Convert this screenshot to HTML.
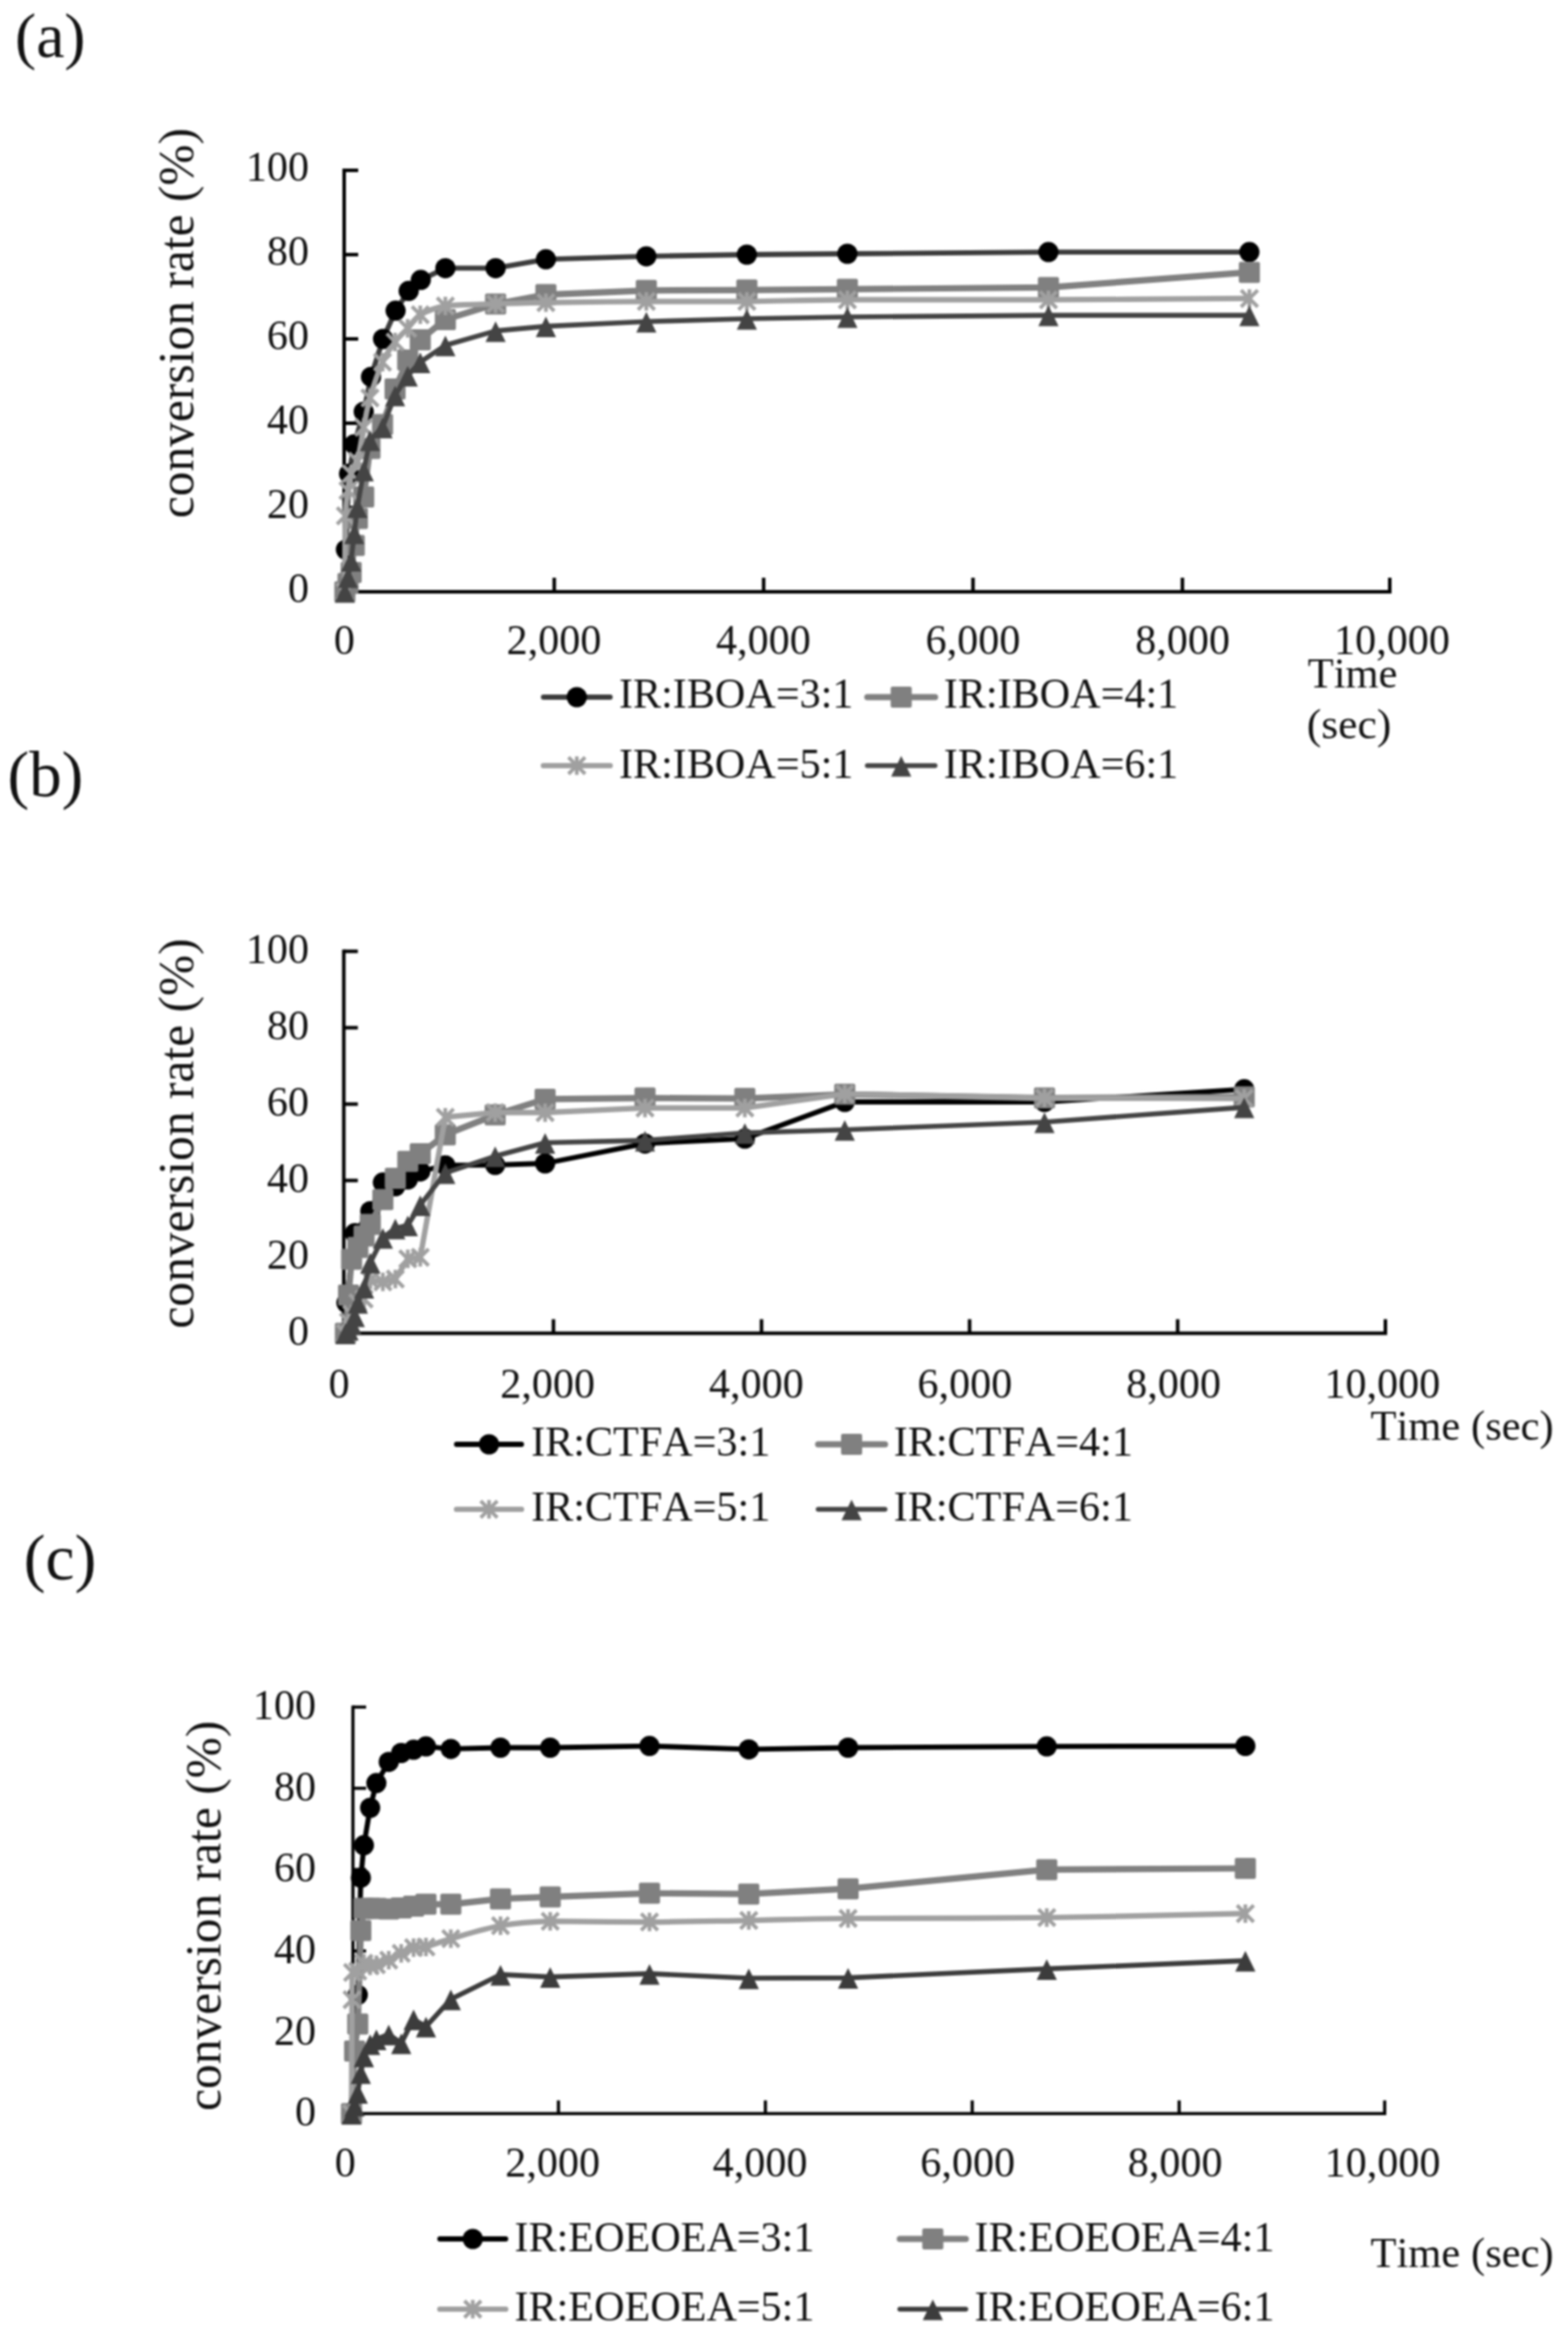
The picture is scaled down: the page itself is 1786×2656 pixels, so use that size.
<!DOCTYPE html>
<html lang="en">
<head>
<meta charset="utf-8">
<title>Conversion rate vs time</title>
<style>
html,body{margin:0;padding:0;background:#fff;}
body{width:1786px;height:2656px;overflow:hidden;}
svg{display:block;filter:blur(0.9px);}
svg text{font-family:"Liberation Serif", serif;fill:#111;font-kerning:none;}
</style>
</head>
<body>
<svg width="1786" height="2656" viewBox="0 0 1786 2656">
<rect width="1786" height="2656" fill="#fff"/>
<g id="chart-a">
<text x="17" y="65" font-size="72.5">(a)</text>
<text transform="translate(220,368) rotate(-90)" text-anchor="middle" font-size="56.4">conversion rate (%)</text>
<path d="M392 192.0L392 674.0L1585 674.0" stroke="#000" stroke-width="4" fill="none" stroke-linejoin="miter"/>
<text x="352" y="686.0" text-anchor="end" font-size="48">0</text>
<text x="352" y="590.0" text-anchor="end" font-size="48">20</text>
<text x="352" y="494.0" text-anchor="end" font-size="48">40</text>
<text x="352" y="398.0" text-anchor="end" font-size="48">60</text>
<text x="352" y="302.0" text-anchor="end" font-size="48">80</text>
<text x="352" y="206.0" text-anchor="end" font-size="48">100</text>
<text x="392.3" y="745" text-anchor="middle" font-size="48">0</text>
<text x="630.9" y="745" text-anchor="middle" font-size="48">2,000</text>
<text x="869.6" y="745" text-anchor="middle" font-size="48">4,000</text>
<text x="1108.2" y="745" text-anchor="middle" font-size="48">6,000</text>
<text x="1346.9" y="745" text-anchor="middle" font-size="48">8,000</text>
<text x="1585.5" y="745" text-anchor="middle" font-size="48">10,000</text>
<path d="M392 578.0L408 578.0M392 482.0L408 482.0M392 386.0L408 386.0M392 290.0L408 290.0M392 194.0L408 194.0M631.3 674.0L631.3 658.0M869.8 674.0L869.8 658.0M1108.3 674.0L1108.3 658.0M1346.8 674.0L1346.8 658.0M1583.0 674.0L1583.0 658.0" stroke="#000" stroke-width="4" fill="none"/>
<path d="M392.8 674.0L394.0 626.0L397.6 539.6L403.5 506.0L414.3 469.0L422.6 429.2L436.3 386.0L450.6 353.8L465.5 331.3L479.3 318.8L507.3 305.4L564.5 305.4L621.8 295.3L736.2 291.9L850.7 290.0L965.2 289.0L1194.2 287.1L1423.1 287.1" stroke="#3c3c3c" stroke-width="5.8" fill="none" stroke-linejoin="round" stroke-linecap="round"/>
<circle cx="392.8" cy="674.0" r="11.5" fill="#000"/>
<circle cx="394.0" cy="626.0" r="11.5" fill="#000"/>
<circle cx="397.6" cy="539.6" r="11.5" fill="#000"/>
<circle cx="403.5" cy="506.0" r="11.5" fill="#000"/>
<circle cx="414.3" cy="469.0" r="11.5" fill="#000"/>
<circle cx="422.6" cy="429.2" r="11.5" fill="#000"/>
<circle cx="436.3" cy="386.0" r="11.5" fill="#000"/>
<circle cx="450.6" cy="353.8" r="11.5" fill="#000"/>
<circle cx="465.5" cy="331.3" r="11.5" fill="#000"/>
<circle cx="479.3" cy="318.8" r="11.5" fill="#000"/>
<circle cx="507.3" cy="305.4" r="11.5" fill="#000"/>
<circle cx="564.5" cy="305.4" r="11.5" fill="#000"/>
<circle cx="621.8" cy="295.3" r="11.5" fill="#000"/>
<circle cx="736.2" cy="291.9" r="11.5" fill="#000"/>
<circle cx="850.7" cy="290.0" r="11.5" fill="#000"/>
<circle cx="965.2" cy="289.0" r="11.5" fill="#000"/>
<circle cx="1194.2" cy="287.1" r="11.5" fill="#000"/>
<circle cx="1423.1" cy="287.1" r="11.5" fill="#000"/>
<path d="M392.8 674.0L396.4 664.4L400.0 651.9L403.5 621.2L407.1 590.5L414.3 566.0L421.4 510.8L435.7 483.4L450.0 443.1L464.4 410.0L478.7 387.0L507.3 363.9L564.5 346.2L621.8 335.6L736.2 330.8L850.7 330.3L965.2 329.4L1194.2 327.4L1423.1 310.2" stroke="#808080" stroke-width="7.2" fill="none" stroke-linejoin="round" stroke-linecap="round"/>
<rect x="380.8" y="662.0" width="24" height="24" rx="2" fill="#808080"/>
<rect x="384.4" y="652.4" width="24" height="24" rx="2" fill="#808080"/>
<rect x="388.0" y="639.9" width="24" height="24" rx="2" fill="#808080"/>
<rect x="391.5" y="609.2" width="24" height="24" rx="2" fill="#808080"/>
<rect x="395.1" y="578.5" width="24" height="24" rx="2" fill="#808080"/>
<rect x="402.3" y="554.0" width="24" height="24" rx="2" fill="#808080"/>
<rect x="409.4" y="498.8" width="24" height="24" rx="2" fill="#808080"/>
<rect x="423.7" y="471.4" width="24" height="24" rx="2" fill="#808080"/>
<rect x="438.0" y="431.1" width="24" height="24" rx="2" fill="#808080"/>
<rect x="452.4" y="398.0" width="24" height="24" rx="2" fill="#808080"/>
<rect x="466.7" y="375.0" width="24" height="24" rx="2" fill="#808080"/>
<rect x="495.3" y="351.9" width="24" height="24" rx="2" fill="#808080"/>
<rect x="552.5" y="334.2" width="24" height="24" rx="2" fill="#808080"/>
<rect x="609.8" y="323.6" width="24" height="24" rx="2" fill="#808080"/>
<rect x="724.2" y="318.8" width="24" height="24" rx="2" fill="#808080"/>
<rect x="838.7" y="318.3" width="24" height="24" rx="2" fill="#808080"/>
<rect x="953.2" y="317.4" width="24" height="24" rx="2" fill="#808080"/>
<rect x="1182.2" y="315.4" width="24" height="24" rx="2" fill="#808080"/>
<rect x="1411.1" y="298.2" width="24" height="24" rx="2" fill="#808080"/>
<path d="M392.8 674.0C392.9 660.2 392.8 606.0 393.4 587.6C394.0 569.2 395.3 566.5 396.4 558.8C397.4 551.1 398.2 545.0 400.0 539.6C401.7 534.2 404.8 533.6 407.1 525.2C409.4 516.8 412.0 498.3 414.3 486.8C416.6 475.3 418.0 465.1 421.4 453.2C424.9 441.3 431.2 422.6 435.7 412.4C440.3 402.2 445.5 395.5 450.0 389.4C454.6 383.2 459.8 378.9 464.4 374.0C468.9 369.1 471.8 362.7 478.7 358.6C485.5 354.6 493.5 350.6 507.3 348.6C521.0 346.6 546.2 346.8 564.5 346.2C582.8 345.5 594.3 345.2 621.8 344.7C649.2 344.3 699.6 343.5 736.2 343.3C772.9 343.3 814.1 343.3 850.7 343.3C887.4 343.0 910.2 341.7 965.2 341.4C1020.2 341.4 1120.9 341.4 1194.2 341.4C1267.4 341.1 1386.5 340.2 1423.1 339.9" stroke="#a0a0a0" stroke-width="6.2" fill="none" stroke-linejoin="round" stroke-linecap="round"/>
<path d="M383.3 664.5L402.3 683.5M383.3 683.5L402.3 664.5M392.8 663.5L392.8 684.5" stroke="#a0a0a0" stroke-width="4.2" fill="none"/>
<path d="M383.9 578.1L402.9 597.1M383.9 597.1L402.9 578.1M393.4 577.1L393.4 598.1" stroke="#a0a0a0" stroke-width="4.2" fill="none"/>
<path d="M386.9 549.3L405.9 568.3M386.9 568.3L405.9 549.3M396.4 548.3L396.4 569.3" stroke="#a0a0a0" stroke-width="4.2" fill="none"/>
<path d="M390.5 530.1L409.5 549.1M390.5 549.1L409.5 530.1M400.0 529.1L400.0 550.1" stroke="#a0a0a0" stroke-width="4.2" fill="none"/>
<path d="M397.6 515.7L416.6 534.7M397.6 534.7L416.6 515.7M407.1 514.7L407.1 535.7" stroke="#a0a0a0" stroke-width="4.2" fill="none"/>
<path d="M404.8 477.3L423.8 496.3M404.8 496.3L423.8 477.3M414.3 476.3L414.3 497.3" stroke="#a0a0a0" stroke-width="4.2" fill="none"/>
<path d="M411.9 443.7L430.9 462.7M411.9 462.7L430.9 443.7M421.4 442.7L421.4 463.7" stroke="#a0a0a0" stroke-width="4.2" fill="none"/>
<path d="M426.2 402.9L445.2 421.9M426.2 421.9L445.2 402.9M435.7 401.9L435.7 422.9" stroke="#a0a0a0" stroke-width="4.2" fill="none"/>
<path d="M440.5 379.9L459.5 398.9M440.5 398.9L459.5 379.9M450.0 378.9L450.0 399.9" stroke="#a0a0a0" stroke-width="4.2" fill="none"/>
<path d="M454.9 364.5L473.9 383.5M454.9 383.5L473.9 364.5M464.4 363.5L464.4 384.5" stroke="#a0a0a0" stroke-width="4.2" fill="none"/>
<path d="M469.2 349.1L488.2 368.1M469.2 368.1L488.2 349.1M478.7 348.1L478.7 369.1" stroke="#a0a0a0" stroke-width="4.2" fill="none"/>
<path d="M497.8 339.1L516.8 358.1M497.8 358.1L516.8 339.1M507.3 338.1L507.3 359.1" stroke="#a0a0a0" stroke-width="4.2" fill="none"/>
<path d="M555.0 336.7L574.0 355.7M555.0 355.7L574.0 336.7M564.5 335.7L564.5 356.7" stroke="#a0a0a0" stroke-width="4.2" fill="none"/>
<path d="M612.3 335.2L631.3 354.2M612.3 354.2L631.3 335.2M621.8 334.2L621.8 355.2" stroke="#a0a0a0" stroke-width="4.2" fill="none"/>
<path d="M726.7 333.8L745.7 352.8M726.7 352.8L745.7 333.8M736.2 332.8L736.2 353.8" stroke="#a0a0a0" stroke-width="4.2" fill="none"/>
<path d="M841.2 333.8L860.2 352.8M841.2 352.8L860.2 333.8M850.7 332.8L850.7 353.8" stroke="#a0a0a0" stroke-width="4.2" fill="none"/>
<path d="M955.7 331.9L974.7 350.9M955.7 350.9L974.7 331.9M965.2 330.9L965.2 351.9" stroke="#a0a0a0" stroke-width="4.2" fill="none"/>
<path d="M1184.7 331.9L1203.7 350.9M1184.7 350.9L1203.7 331.9M1194.2 330.9L1194.2 351.9" stroke="#a0a0a0" stroke-width="4.2" fill="none"/>
<path d="M1413.6 330.4L1432.6 349.4M1413.6 349.4L1432.6 330.4M1423.1 329.4L1423.1 350.4" stroke="#a0a0a0" stroke-width="4.2" fill="none"/>
<path d="M392.8 674.0L396.4 657.2L400.0 638.5L403.5 607.3L407.1 577.5L414.3 535.8L421.4 501.2L435.7 486.8L450.0 450.3L464.4 427.8L478.7 412.4L507.3 393.2L564.5 376.9L621.8 371.6L736.2 366.3L850.7 363.0L965.2 361.0L1194.2 359.1L1423.1 359.1" stroke="#444444" stroke-width="5.6" fill="none" stroke-linejoin="round" stroke-linecap="round"/>
<path d="M381.3 686.5L404.3 686.5L392.8 663.0Z" fill="#444444"/>
<path d="M384.9 669.7L407.9 669.7L396.4 646.2Z" fill="#444444"/>
<path d="M388.5 651.0L411.5 651.0L400.0 627.5Z" fill="#444444"/>
<path d="M392.0 619.8L415.0 619.8L403.5 596.3Z" fill="#444444"/>
<path d="M395.6 590.0L418.6 590.0L407.1 566.5Z" fill="#444444"/>
<path d="M402.8 548.3L425.8 548.3L414.3 524.8Z" fill="#444444"/>
<path d="M409.9 513.7L432.9 513.7L421.4 490.2Z" fill="#444444"/>
<path d="M424.2 499.3L447.2 499.3L435.7 475.8Z" fill="#444444"/>
<path d="M438.5 462.8L461.5 462.8L450.0 439.3Z" fill="#444444"/>
<path d="M452.9 440.3L475.9 440.3L464.4 416.8Z" fill="#444444"/>
<path d="M467.2 424.9L490.2 424.9L478.7 401.4Z" fill="#444444"/>
<path d="M495.8 405.7L518.8 405.7L507.3 382.2Z" fill="#444444"/>
<path d="M553.0 389.4L576.0 389.4L564.5 365.9Z" fill="#444444"/>
<path d="M610.3 384.1L633.3 384.1L621.8 360.6Z" fill="#444444"/>
<path d="M724.7 378.8L747.7 378.8L736.2 355.3Z" fill="#444444"/>
<path d="M839.2 375.5L862.2 375.5L850.7 352.0Z" fill="#444444"/>
<path d="M953.7 373.5L976.7 373.5L965.2 350.0Z" fill="#444444"/>
<path d="M1182.7 371.6L1205.7 371.6L1194.2 348.1Z" fill="#444444"/>
<path d="M1411.6 371.6L1434.6 371.6L1423.1 348.1Z" fill="#444444"/>
<path d="M619 794L695 794" stroke="#3c3c3c" stroke-width="5.8" stroke-linecap="round"/>
<circle cx="657.0" cy="794.0" r="11.5" fill="#000"/>
<text x="705" y="806" font-size="48">IR:IBOA=3:1</text>
<path d="M988 794L1065 794" stroke="#808080" stroke-width="7.2" stroke-linecap="round"/>
<rect x="1014.5" y="782.0" width="24" height="24" rx="2" fill="#808080"/>
<text x="1075" y="806" font-size="48">IR:IBOA=4:1</text>
<path d="M619 872L695 872" stroke="#a0a0a0" stroke-width="6.2" stroke-linecap="round"/>
<path d="M647.5 862.5L666.5 881.5M647.5 881.5L666.5 862.5M657.0 861.5L657.0 882.5" stroke="#a0a0a0" stroke-width="4.2" fill="none"/>
<text x="705" y="885.5" font-size="48">IR:IBOA=5:1</text>
<path d="M988 872L1065 872" stroke="#444444" stroke-width="5.6" stroke-linecap="round"/>
<path d="M1015.0 884.5L1038.0 884.5L1026.5 861.0Z" fill="#444444"/>
<text x="1075" y="885.5" font-size="48">IR:IBOA=6:1</text>
<text x="1489.5" y="783" font-size="48.5">Time</text>
<text x="1488.5" y="841" font-size="49.5">(sec)</text>
</g>
<g id="chart-b">
<text x="8.5" y="906.5" font-size="74">(b)</text>
<text transform="translate(220,1291) rotate(-90)" text-anchor="middle" font-size="56.4">conversion rate (%)</text>
<path d="M391.6 1081.6L391.6 1518.6L1580 1518.6" stroke="#000" stroke-width="4" fill="none" stroke-linejoin="miter"/>
<text x="352" y="1531.6" text-anchor="end" font-size="48">0</text>
<text x="352" y="1444.6" text-anchor="end" font-size="48">20</text>
<text x="352" y="1357.6" text-anchor="end" font-size="48">40</text>
<text x="352" y="1270.6" text-anchor="end" font-size="48">60</text>
<text x="352" y="1183.6" text-anchor="end" font-size="48">80</text>
<text x="352" y="1096.6" text-anchor="end" font-size="48">100</text>
<text x="386.2" y="1592" text-anchor="middle" font-size="48">0</text>
<text x="623.8" y="1592" text-anchor="middle" font-size="48">2,000</text>
<text x="861.5" y="1592" text-anchor="middle" font-size="48">4,000</text>
<text x="1099.1" y="1592" text-anchor="middle" font-size="48">6,000</text>
<text x="1336.8" y="1592" text-anchor="middle" font-size="48">8,000</text>
<text x="1574.4" y="1592" text-anchor="middle" font-size="48">10,000</text>
<path d="M391.6 1431.6L407.6 1431.6M391.6 1344.6L407.6 1344.6M391.6 1257.6L407.6 1257.6M391.6 1170.6L407.6 1170.6M391.6 1083.6L407.6 1083.6M630.4 1518.6L630.4 1502.6M867.4 1518.6L867.4 1502.6M1104.4 1518.6L1104.4 1502.6M1341.4 1518.6L1341.4 1502.6M1578.0 1518.6L1578.0 1502.6" stroke="#000" stroke-width="4" fill="none"/>
<path d="M393.4 1518.6L394.6 1483.8L404.1 1404.6L421.8 1379.4L436.1 1346.8L450.3 1351.1L464.5 1343.3L478.7 1334.2L507.2 1327.2L564.0 1326.8L620.9 1325.0L734.7 1302.4L848.4 1296.8L962.2 1255.0L1189.7 1255.0L1417.2 1240.6" stroke="#000" stroke-width="5.8" fill="none" stroke-linejoin="round" stroke-linecap="round"/>
<circle cx="393.4" cy="1518.6" r="11.5" fill="#000"/>
<circle cx="394.6" cy="1483.8" r="11.5" fill="#000"/>
<circle cx="404.1" cy="1404.6" r="11.5" fill="#000"/>
<circle cx="421.8" cy="1379.4" r="11.5" fill="#000"/>
<circle cx="436.1" cy="1346.8" r="11.5" fill="#000"/>
<circle cx="450.3" cy="1351.1" r="11.5" fill="#000"/>
<circle cx="464.5" cy="1343.3" r="11.5" fill="#000"/>
<circle cx="478.7" cy="1334.2" r="11.5" fill="#000"/>
<circle cx="507.2" cy="1327.2" r="11.5" fill="#000"/>
<circle cx="564.0" cy="1326.8" r="11.5" fill="#000"/>
<circle cx="620.9" cy="1325.0" r="11.5" fill="#000"/>
<circle cx="734.7" cy="1302.4" r="11.5" fill="#000"/>
<circle cx="848.4" cy="1296.8" r="11.5" fill="#000"/>
<circle cx="962.2" cy="1255.0" r="11.5" fill="#000"/>
<circle cx="1189.7" cy="1255.0" r="11.5" fill="#000"/>
<circle cx="1417.2" cy="1240.6" r="11.5" fill="#000"/>
<path d="M393.4 1518.6L397.0 1475.1L400.5 1434.2L407.6 1420.7L414.7 1407.7L421.8 1394.6L436.1 1366.3L450.3 1342.0L464.5 1322.8L478.7 1314.1L507.2 1292.4L564.0 1269.8L620.9 1251.9L734.7 1250.6L848.4 1251.1L962.2 1246.3L1189.7 1250.6L1417.2 1249.3" stroke="#808080" stroke-width="7.2" fill="none" stroke-linejoin="round" stroke-linecap="round"/>
<rect x="381.4" y="1506.6" width="24" height="24" rx="2" fill="#808080"/>
<rect x="385.0" y="1463.1" width="24" height="24" rx="2" fill="#808080"/>
<rect x="388.5" y="1422.2" width="24" height="24" rx="2" fill="#808080"/>
<rect x="395.6" y="1408.7" width="24" height="24" rx="2" fill="#808080"/>
<rect x="402.7" y="1395.7" width="24" height="24" rx="2" fill="#808080"/>
<rect x="409.8" y="1382.6" width="24" height="24" rx="2" fill="#808080"/>
<rect x="424.1" y="1354.3" width="24" height="24" rx="2" fill="#808080"/>
<rect x="438.3" y="1330.0" width="24" height="24" rx="2" fill="#808080"/>
<rect x="452.5" y="1310.8" width="24" height="24" rx="2" fill="#808080"/>
<rect x="466.7" y="1302.1" width="24" height="24" rx="2" fill="#808080"/>
<rect x="495.2" y="1280.4" width="24" height="24" rx="2" fill="#808080"/>
<rect x="552.0" y="1257.8" width="24" height="24" rx="2" fill="#808080"/>
<rect x="608.9" y="1239.9" width="24" height="24" rx="2" fill="#808080"/>
<rect x="722.7" y="1238.6" width="24" height="24" rx="2" fill="#808080"/>
<rect x="836.4" y="1239.1" width="24" height="24" rx="2" fill="#808080"/>
<rect x="950.2" y="1234.3" width="24" height="24" rx="2" fill="#808080"/>
<rect x="1177.7" y="1238.6" width="24" height="24" rx="2" fill="#808080"/>
<rect x="1405.2" y="1237.3" width="24" height="24" rx="2" fill="#808080"/>
<path d="M393.4 1518.6L397.0 1505.5L400.5 1496.8L407.6 1483.8L414.7 1479.4L421.8 1457.7L436.1 1459.9L450.3 1456.8L464.5 1433.8L478.7 1432.0L507.2 1272.4L564.0 1267.2L620.9 1267.2L734.7 1261.9L848.4 1261.9L962.2 1245.9L1189.7 1250.6L1417.2 1251.1" stroke="#a0a0a0" stroke-width="6.2" fill="none" stroke-linejoin="round" stroke-linecap="round"/>
<path d="M383.9 1509.1L402.9 1528.1M383.9 1528.1L402.9 1509.1M393.4 1508.1L393.4 1529.1" stroke="#a0a0a0" stroke-width="4.2" fill="none"/>
<path d="M387.5 1496.0L406.5 1515.0M387.5 1515.0L406.5 1496.0M397.0 1495.0L397.0 1516.0" stroke="#a0a0a0" stroke-width="4.2" fill="none"/>
<path d="M391.0 1487.3L410.0 1506.3M391.0 1506.3L410.0 1487.3M400.5 1486.3L400.5 1507.3" stroke="#a0a0a0" stroke-width="4.2" fill="none"/>
<path d="M398.1 1474.3L417.1 1493.3M398.1 1493.3L417.1 1474.3M407.6 1473.3L407.6 1494.3" stroke="#a0a0a0" stroke-width="4.2" fill="none"/>
<path d="M405.2 1469.9L424.2 1488.9M405.2 1488.9L424.2 1469.9M414.7 1468.9L414.7 1489.9" stroke="#a0a0a0" stroke-width="4.2" fill="none"/>
<path d="M412.3 1448.2L431.3 1467.2M412.3 1467.2L431.3 1448.2M421.8 1447.2L421.8 1468.2" stroke="#a0a0a0" stroke-width="4.2" fill="none"/>
<path d="M426.6 1450.4L445.6 1469.4M426.6 1469.4L445.6 1450.4M436.1 1449.4L436.1 1470.4" stroke="#a0a0a0" stroke-width="4.2" fill="none"/>
<path d="M440.8 1447.3L459.8 1466.3M440.8 1466.3L459.8 1447.3M450.3 1446.3L450.3 1467.3" stroke="#a0a0a0" stroke-width="4.2" fill="none"/>
<path d="M455.0 1424.3L474.0 1443.3M455.0 1443.3L474.0 1424.3M464.5 1423.3L464.5 1444.3" stroke="#a0a0a0" stroke-width="4.2" fill="none"/>
<path d="M469.2 1422.5L488.2 1441.5M469.2 1441.5L488.2 1422.5M478.7 1421.5L478.7 1442.5" stroke="#a0a0a0" stroke-width="4.2" fill="none"/>
<path d="M497.7 1262.9L516.7 1281.9M497.7 1281.9L516.7 1262.9M507.2 1261.9L507.2 1282.9" stroke="#a0a0a0" stroke-width="4.2" fill="none"/>
<path d="M554.5 1257.7L573.5 1276.7M554.5 1276.7L573.5 1257.7M564.0 1256.7L564.0 1277.7" stroke="#a0a0a0" stroke-width="4.2" fill="none"/>
<path d="M611.4 1257.7L630.4 1276.7M611.4 1276.7L630.4 1257.7M620.9 1256.7L620.9 1277.7" stroke="#a0a0a0" stroke-width="4.2" fill="none"/>
<path d="M725.2 1252.4L744.2 1271.4M725.2 1271.4L744.2 1252.4M734.7 1251.4L734.7 1272.4" stroke="#a0a0a0" stroke-width="4.2" fill="none"/>
<path d="M838.9 1252.4L857.9 1271.4M838.9 1271.4L857.9 1252.4M848.4 1251.4L848.4 1272.4" stroke="#a0a0a0" stroke-width="4.2" fill="none"/>
<path d="M952.7 1236.4L971.7 1255.4M952.7 1255.4L971.7 1236.4M962.2 1235.4L962.2 1256.4" stroke="#a0a0a0" stroke-width="4.2" fill="none"/>
<path d="M1180.2 1241.1L1199.2 1260.1M1180.2 1260.1L1199.2 1241.1M1189.7 1240.1L1189.7 1261.1" stroke="#a0a0a0" stroke-width="4.2" fill="none"/>
<path d="M1407.7 1241.6L1426.7 1260.6M1407.7 1260.6L1426.7 1241.6M1417.2 1240.6L1417.2 1261.6" stroke="#a0a0a0" stroke-width="4.2" fill="none"/>
<path d="M393.4 1518.6L397.0 1514.2L400.5 1507.7L404.1 1499.0L407.6 1483.8L414.7 1466.4L421.8 1438.1L436.1 1409.8L450.3 1399.0L464.5 1395.5L478.7 1372.4L507.2 1335.9L564.0 1316.8L620.9 1301.5L734.7 1298.9L848.4 1290.2L962.2 1286.7L1189.7 1278.0L1417.2 1261.1" stroke="#444444" stroke-width="5.6" fill="none" stroke-linejoin="round" stroke-linecap="round"/>
<path d="M381.9 1531.1L404.9 1531.1L393.4 1507.6Z" fill="#444444"/>
<path d="M385.5 1526.8L408.5 1526.8L397.0 1503.2Z" fill="#444444"/>
<path d="M389.0 1520.2L412.0 1520.2L400.5 1496.7Z" fill="#444444"/>
<path d="M392.6 1511.5L415.6 1511.5L404.1 1488.0Z" fill="#444444"/>
<path d="M396.1 1496.3L419.1 1496.3L407.6 1472.8Z" fill="#444444"/>
<path d="M403.2 1478.9L426.2 1478.9L414.7 1455.4Z" fill="#444444"/>
<path d="M410.3 1450.6L433.3 1450.6L421.8 1427.1Z" fill="#444444"/>
<path d="M424.6 1422.3L447.6 1422.3L436.1 1398.8Z" fill="#444444"/>
<path d="M438.8 1411.5L461.8 1411.5L450.3 1388.0Z" fill="#444444"/>
<path d="M453.0 1408.0L476.0 1408.0L464.5 1384.5Z" fill="#444444"/>
<path d="M467.2 1384.9L490.2 1384.9L478.7 1361.4Z" fill="#444444"/>
<path d="M495.7 1348.4L518.7 1348.4L507.2 1324.9Z" fill="#444444"/>
<path d="M552.5 1329.3L575.5 1329.3L564.0 1305.8Z" fill="#444444"/>
<path d="M609.4 1314.0L632.4 1314.0L620.9 1290.5Z" fill="#444444"/>
<path d="M723.2 1311.4L746.2 1311.4L734.7 1287.9Z" fill="#444444"/>
<path d="M836.9 1302.7L859.9 1302.7L848.4 1279.2Z" fill="#444444"/>
<path d="M950.7 1299.2L973.7 1299.2L962.2 1275.7Z" fill="#444444"/>
<path d="M1178.2 1290.5L1201.2 1290.5L1189.7 1267.0Z" fill="#444444"/>
<path d="M1405.7 1273.6L1428.7 1273.6L1417.2 1250.1Z" fill="#444444"/>
<path d="M520 1645L594 1645" stroke="#000" stroke-width="5.8" stroke-linecap="round"/>
<circle cx="557.0" cy="1645.0" r="11.5" fill="#000"/>
<text x="605" y="1658" font-size="48">IR:CTFA=3:1</text>
<path d="M932 1645L1008 1645" stroke="#808080" stroke-width="7.2" stroke-linecap="round"/>
<rect x="958.0" y="1633.0" width="24" height="24" rx="2" fill="#808080"/>
<text x="1018" y="1658" font-size="48">IR:CTFA=4:1</text>
<path d="M520 1719L594 1719" stroke="#a0a0a0" stroke-width="6.2" stroke-linecap="round"/>
<path d="M547.5 1709.5L566.5 1728.5M547.5 1728.5L566.5 1709.5M557.0 1708.5L557.0 1729.5" stroke="#a0a0a0" stroke-width="4.2" fill="none"/>
<text x="605" y="1732" font-size="48">IR:CTFA=5:1</text>
<path d="M932 1719L1008 1719" stroke="#444444" stroke-width="5.6" stroke-linecap="round"/>
<path d="M958.5 1731.5L981.5 1731.5L970.0 1708.0Z" fill="#444444"/>
<text x="1018" y="1732" font-size="48">IR:CTFA=6:1</text>
<text x="1561" y="1640" font-size="48.5">Time (sec)</text>
</g>
<g id="chart-c">
<text x="27" y="1799" font-size="74.5">(c)</text>
<text transform="translate(251,2182) rotate(-90)" text-anchor="middle" font-size="56.4">conversion rate (%)</text>
<path d="M402 1942.4L402 2407.2L1579 2407.2" stroke="#000" stroke-width="3.6" fill="none" stroke-linejoin="miter"/>
<text x="360" y="2421.2" text-anchor="end" font-size="48">0</text>
<text x="360" y="2328.6" text-anchor="end" font-size="48">20</text>
<text x="360" y="2236.0" text-anchor="end" font-size="48">40</text>
<text x="360" y="2143.4" text-anchor="end" font-size="48">60</text>
<text x="360" y="2050.8" text-anchor="end" font-size="48">80</text>
<text x="360" y="1958.2" text-anchor="end" font-size="48">100</text>
<text x="393.2" y="2479" text-anchor="middle" font-size="48">0</text>
<text x="629.5" y="2479" text-anchor="middle" font-size="48">2,000</text>
<text x="865.8" y="2479" text-anchor="middle" font-size="48">4,000</text>
<text x="1102.2" y="2479" text-anchor="middle" font-size="48">6,000</text>
<text x="1338.5" y="2479" text-anchor="middle" font-size="48">8,000</text>
<text x="1574.8" y="2479" text-anchor="middle" font-size="48">10,000</text>
<path d="M402 2314.6L417 2314.6M402 2222.0L417 2222.0M402 2129.4L417 2129.4M402 2036.8L417 2036.8M402 1944.2L417 1944.2M636.1 2407.2L636.1 2392.2M871.8 2407.2L871.8 2392.2M1107.4 2407.2L1107.4 2392.2M1343.1 2407.2L1343.1 2392.2M1577.2 2407.2L1577.2 2392.2" stroke="#000" stroke-width="3.6" fill="none"/>
<path d="M400.4 2407.2L407.5 2272.0L411.0 2138.7L414.5 2101.6L421.6 2059.0L428.7 2030.8L442.8 2006.7L457.0 1996.5L471.1 1992.8L485.2 1989.1L513.5 1991.9L570.1 1990.5L626.7 1990.5L739.8 1988.6L852.9 1992.4L966.0 1990.5L1192.3 1989.1L1418.5 1988.6" stroke="#000" stroke-width="5.8" fill="none" stroke-linejoin="round" stroke-linecap="round"/>
<circle cx="400.4" cy="2407.2" r="11.5" fill="#000"/>
<circle cx="407.5" cy="2272.0" r="11.5" fill="#000"/>
<circle cx="411.0" cy="2138.7" r="11.5" fill="#000"/>
<circle cx="414.5" cy="2101.6" r="11.5" fill="#000"/>
<circle cx="421.6" cy="2059.0" r="11.5" fill="#000"/>
<circle cx="428.7" cy="2030.8" r="11.5" fill="#000"/>
<circle cx="442.8" cy="2006.7" r="11.5" fill="#000"/>
<circle cx="457.0" cy="1996.5" r="11.5" fill="#000"/>
<circle cx="471.1" cy="1992.8" r="11.5" fill="#000"/>
<circle cx="485.2" cy="1989.1" r="11.5" fill="#000"/>
<circle cx="513.5" cy="1991.9" r="11.5" fill="#000"/>
<circle cx="570.1" cy="1990.5" r="11.5" fill="#000"/>
<circle cx="626.7" cy="1990.5" r="11.5" fill="#000"/>
<circle cx="739.8" cy="1988.6" r="11.5" fill="#000"/>
<circle cx="852.9" cy="1992.4" r="11.5" fill="#000"/>
<circle cx="966.0" cy="1990.5" r="11.5" fill="#000"/>
<circle cx="1192.3" cy="1989.1" r="11.5" fill="#000"/>
<circle cx="1418.5" cy="1988.6" r="11.5" fill="#000"/>
<path d="M400.4 2407.2L403.9 2335.9L407.5 2305.3L411.0 2198.8L414.5 2173.4L421.6 2173.4L428.7 2173.4L442.8 2174.3L457.0 2172.9L471.1 2171.1L485.2 2168.8L513.5 2168.8L570.1 2162.7L626.7 2160.4L739.8 2156.3L852.9 2157.2L966.0 2151.2L1192.3 2129.4L1418.5 2128.0" stroke="#808080" stroke-width="7.2" fill="none" stroke-linejoin="round" stroke-linecap="round"/>
<rect x="388.4" y="2395.2" width="24" height="24" rx="2" fill="#808080"/>
<rect x="391.9" y="2323.9" width="24" height="24" rx="2" fill="#808080"/>
<rect x="395.5" y="2293.3" width="24" height="24" rx="2" fill="#808080"/>
<rect x="399.0" y="2186.8" width="24" height="24" rx="2" fill="#808080"/>
<rect x="402.5" y="2161.4" width="24" height="24" rx="2" fill="#808080"/>
<rect x="409.6" y="2161.4" width="24" height="24" rx="2" fill="#808080"/>
<rect x="416.7" y="2161.4" width="24" height="24" rx="2" fill="#808080"/>
<rect x="430.8" y="2162.3" width="24" height="24" rx="2" fill="#808080"/>
<rect x="445.0" y="2160.9" width="24" height="24" rx="2" fill="#808080"/>
<rect x="459.1" y="2159.1" width="24" height="24" rx="2" fill="#808080"/>
<rect x="473.2" y="2156.8" width="24" height="24" rx="2" fill="#808080"/>
<rect x="501.5" y="2156.8" width="24" height="24" rx="2" fill="#808080"/>
<rect x="558.1" y="2150.7" width="24" height="24" rx="2" fill="#808080"/>
<rect x="614.7" y="2148.4" width="24" height="24" rx="2" fill="#808080"/>
<rect x="727.8" y="2144.3" width="24" height="24" rx="2" fill="#808080"/>
<rect x="840.9" y="2145.2" width="24" height="24" rx="2" fill="#808080"/>
<rect x="954.0" y="2139.2" width="24" height="24" rx="2" fill="#808080"/>
<rect x="1180.3" y="2117.4" width="24" height="24" rx="2" fill="#808080"/>
<rect x="1406.5" y="2116.0" width="24" height="24" rx="2" fill="#808080"/>
<path d="M400.4 2407.2C400.5 2386.5 400.8 2303.3 401.0 2277.6C401.2 2251.9 401.0 2251.7 401.6 2246.5C402.6 2245.1 405.4 2246.5 407.5 2245.1C409.5 2243.4 412.3 2236.9 414.5 2235.9C416.8 2235.9 419.3 2238.8 421.6 2239.1C423.9 2239.1 425.3 2238.8 428.7 2237.7C432.1 2236.7 438.3 2234.7 442.8 2232.6C447.3 2230.6 452.4 2227.1 457.0 2224.8C461.5 2222.5 466.6 2219.5 471.1 2218.3C475.6 2217.4 478.5 2218.3 485.2 2217.4C492.0 2215.7 500.0 2212.0 513.5 2208.1C527.1 2204.3 552.0 2196.5 570.1 2193.3C588.2 2190.1 599.5 2188.9 626.7 2188.2C653.8 2188.2 703.6 2189.1 739.8 2189.1C776.0 2189.0 816.7 2187.9 852.9 2187.3C889.1 2186.6 911.7 2185.5 966.0 2185.0C1020.3 2184.4 1119.9 2184.9 1192.3 2184.0C1264.7 2183.1 1382.3 2180.1 1418.5 2179.4" stroke="#a0a0a0" stroke-width="6.2" fill="none" stroke-linejoin="round" stroke-linecap="round"/>
<path d="M390.9 2397.7L409.9 2416.7M390.9 2416.7L409.9 2397.7M400.4 2396.7L400.4 2417.7" stroke="#a0a0a0" stroke-width="4.2" fill="none"/>
<path d="M391.5 2268.1L410.5 2287.1M391.5 2287.1L410.5 2268.1M401.0 2267.1L401.0 2288.1" stroke="#a0a0a0" stroke-width="4.2" fill="none"/>
<path d="M392.1 2237.0L411.1 2256.0M392.1 2256.0L411.1 2237.0M401.6 2236.0L401.6 2257.0" stroke="#a0a0a0" stroke-width="4.2" fill="none"/>
<path d="M398.0 2235.6L417.0 2254.6M398.0 2254.6L417.0 2235.6M407.5 2234.6L407.5 2255.6" stroke="#a0a0a0" stroke-width="4.2" fill="none"/>
<path d="M405.0 2226.4L424.0 2245.4M405.0 2245.4L424.0 2226.4M414.5 2225.4L414.5 2246.4" stroke="#a0a0a0" stroke-width="4.2" fill="none"/>
<path d="M412.1 2229.6L431.1 2248.6M412.1 2248.6L431.1 2229.6M421.6 2228.6L421.6 2249.6" stroke="#a0a0a0" stroke-width="4.2" fill="none"/>
<path d="M419.2 2228.2L438.2 2247.2M419.2 2247.2L438.2 2228.2M428.7 2227.2L428.7 2248.2" stroke="#a0a0a0" stroke-width="4.2" fill="none"/>
<path d="M433.3 2223.1L452.3 2242.1M433.3 2242.1L452.3 2223.1M442.8 2222.1L442.8 2243.1" stroke="#a0a0a0" stroke-width="4.2" fill="none"/>
<path d="M447.5 2215.3L466.5 2234.3M447.5 2234.3L466.5 2215.3M457.0 2214.3L457.0 2235.3" stroke="#a0a0a0" stroke-width="4.2" fill="none"/>
<path d="M461.6 2208.8L480.6 2227.8M461.6 2227.8L480.6 2208.8M471.1 2207.8L471.1 2228.8" stroke="#a0a0a0" stroke-width="4.2" fill="none"/>
<path d="M475.7 2207.9L494.7 2226.9M475.7 2226.9L494.7 2207.9M485.2 2206.9L485.2 2227.9" stroke="#a0a0a0" stroke-width="4.2" fill="none"/>
<path d="M504.0 2198.6L523.0 2217.6M504.0 2217.6L523.0 2198.6M513.5 2197.6L513.5 2218.6" stroke="#a0a0a0" stroke-width="4.2" fill="none"/>
<path d="M560.6 2183.8L579.6 2202.8M560.6 2202.8L579.6 2183.8M570.1 2182.8L570.1 2203.8" stroke="#a0a0a0" stroke-width="4.2" fill="none"/>
<path d="M617.2 2178.7L636.2 2197.7M617.2 2197.7L636.2 2178.7M626.7 2177.7L626.7 2198.7" stroke="#a0a0a0" stroke-width="4.2" fill="none"/>
<path d="M730.3 2179.6L749.3 2198.6M730.3 2198.6L749.3 2179.6M739.8 2178.6L739.8 2199.6" stroke="#a0a0a0" stroke-width="4.2" fill="none"/>
<path d="M843.4 2177.8L862.4 2196.8M843.4 2196.8L862.4 2177.8M852.9 2176.8L852.9 2197.8" stroke="#a0a0a0" stroke-width="4.2" fill="none"/>
<path d="M956.5 2175.5L975.5 2194.5M956.5 2194.5L975.5 2175.5M966.0 2174.5L966.0 2195.5" stroke="#a0a0a0" stroke-width="4.2" fill="none"/>
<path d="M1182.8 2174.5L1201.8 2193.5M1182.8 2193.5L1201.8 2174.5M1192.3 2173.5L1192.3 2194.5" stroke="#a0a0a0" stroke-width="4.2" fill="none"/>
<path d="M1409.0 2169.9L1428.0 2188.9M1409.0 2188.9L1428.0 2169.9M1418.5 2168.9L1418.5 2189.9" stroke="#a0a0a0" stroke-width="4.2" fill="none"/>
<path d="M400.4 2407.2L403.9 2397.9L407.5 2383.6L411.0 2360.9L414.5 2341.9L421.6 2328.0L428.7 2322.5L442.8 2316.9L457.0 2327.1L471.1 2299.8L485.2 2308.1L513.5 2277.1L570.1 2248.9L626.7 2251.6L739.8 2247.9L852.9 2253.0L966.0 2252.6L1192.3 2242.4L1418.5 2233.1" stroke="#3c3c3c" stroke-width="5.6" fill="none" stroke-linejoin="round" stroke-linecap="round"/>
<path d="M388.9 2419.7L411.9 2419.7L400.4 2396.2Z" fill="#3c3c3c"/>
<path d="M392.4 2410.4L415.4 2410.4L403.9 2386.9Z" fill="#3c3c3c"/>
<path d="M396.0 2396.1L419.0 2396.1L407.5 2372.6Z" fill="#3c3c3c"/>
<path d="M399.5 2373.4L422.5 2373.4L411.0 2349.9Z" fill="#3c3c3c"/>
<path d="M403.0 2354.4L426.0 2354.4L414.5 2330.9Z" fill="#3c3c3c"/>
<path d="M410.1 2340.5L433.1 2340.5L421.6 2317.0Z" fill="#3c3c3c"/>
<path d="M417.2 2335.0L440.2 2335.0L428.7 2311.5Z" fill="#3c3c3c"/>
<path d="M431.3 2329.4L454.3 2329.4L442.8 2305.9Z" fill="#3c3c3c"/>
<path d="M445.5 2339.6L468.5 2339.6L457.0 2316.1Z" fill="#3c3c3c"/>
<path d="M459.6 2312.3L482.6 2312.3L471.1 2288.8Z" fill="#3c3c3c"/>
<path d="M473.7 2320.6L496.7 2320.6L485.2 2297.1Z" fill="#3c3c3c"/>
<path d="M502.0 2289.6L525.0 2289.6L513.5 2266.1Z" fill="#3c3c3c"/>
<path d="M558.6 2261.4L581.6 2261.4L570.1 2237.9Z" fill="#3c3c3c"/>
<path d="M615.2 2264.1L638.2 2264.1L626.7 2240.6Z" fill="#3c3c3c"/>
<path d="M728.3 2260.4L751.3 2260.4L739.8 2236.9Z" fill="#3c3c3c"/>
<path d="M841.4 2265.5L864.4 2265.5L852.9 2242.0Z" fill="#3c3c3c"/>
<path d="M954.5 2265.1L977.5 2265.1L966.0 2241.6Z" fill="#3c3c3c"/>
<path d="M1180.8 2254.9L1203.8 2254.9L1192.3 2231.4Z" fill="#3c3c3c"/>
<path d="M1407.0 2245.6L1430.0 2245.6L1418.5 2222.1Z" fill="#3c3c3c"/>
<path d="M501 2550L576 2550" stroke="#000" stroke-width="5.8" stroke-linecap="round"/>
<circle cx="538.5" cy="2550.0" r="11.5" fill="#000"/>
<text x="586" y="2563.5" font-size="48">IR:EOEOEA=3:1</text>
<path d="M1025 2550L1100 2550" stroke="#808080" stroke-width="7.2" stroke-linecap="round"/>
<rect x="1050.5" y="2538.0" width="24" height="24" rx="2" fill="#808080"/>
<text x="1110" y="2563.5" font-size="48">IR:EOEOEA=4:1</text>
<path d="M501 2630L576 2630" stroke="#a0a0a0" stroke-width="6.2" stroke-linecap="round"/>
<path d="M529.0 2620.5L548.0 2639.5M529.0 2639.5L548.0 2620.5M538.5 2619.5L538.5 2640.5" stroke="#a0a0a0" stroke-width="4.2" fill="none"/>
<text x="586" y="2642.5" font-size="48">IR:EOEOEA=5:1</text>
<path d="M1025 2630L1100 2630" stroke="#3c3c3c" stroke-width="5.6" stroke-linecap="round"/>
<path d="M1051.0 2642.5L1074.0 2642.5L1062.5 2619.0Z" fill="#3c3c3c"/>
<text x="1110" y="2642.5" font-size="48">IR:EOEOEA=6:1</text>
<text x="1561" y="2582" font-size="48.5">Time (sec)</text>
</g>
</svg>
</body>
</html>
